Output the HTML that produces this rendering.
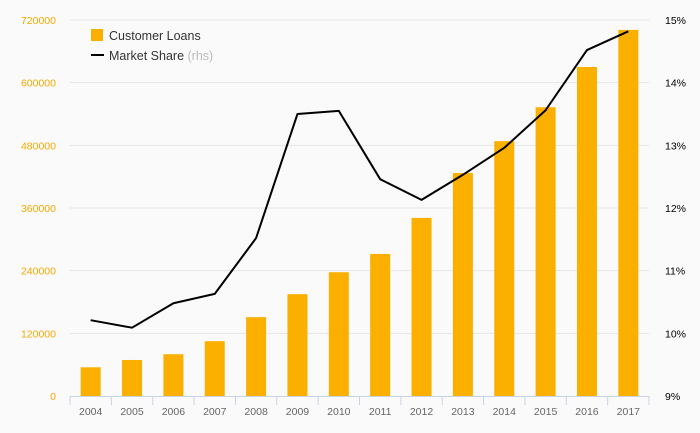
<!DOCTYPE html>
<html><head><meta charset="utf-8"><style>
body{margin:0;background:#fafafa;}
svg{display:block;font-family:"Liberation Sans","DejaVu Sans",sans-serif;}
</style></head><body>
<svg id="chart" width="700" height="433" viewBox="0 0 700 433">
<rect width="700" height="433" fill="#fafafa"/>
<g id="grid"></g><g id="bars"></g><g id="line"></g><g id="axes"></g>
<g>
<rect x="91" y="29" width="12" height="12" fill="#fbb000"/>
<text x="109" y="40" font-size="12.5" fill="#333">Customer Loans</text>
<line x1="91" y1="55" x2="104" y2="55" stroke="#000" stroke-width="2"/>
<text x="109" y="60" font-size="12.5" fill="#333">Market Share <tspan fill="#bbb">(rhs)</tspan></text>
</g>
</svg>
<script>
const years=["2004","2005","2006","2007","2008","2009","2010","2011","2012","2013","2014","2015","2016","2017"];
const loans=[55000,69000,80000,105000,151000,195000,237000,272000,341000,427000,488000,553000,630000,701000];
const share=[10.21,10.09,10.48,10.63,11.52,13.5,13.55,12.46,12.13,12.53,12.96,13.56,14.52,14.82];
const leftTicks=[0,120000,240000,360000,480000,600000,720000];
const rightTicks=[9,10,11,12,13,14,15];
const NS="http://www.w3.org/2000/svg";
const L=70,R=649,T=20,B=396;
const band=(R-L)/years.length;
const x=i=>L+band*(i+0.5);
const yL=v=>B-(v/720000)*(B-T);
const yR=v=>B-((v-9)/6)*(B-T);
function mk(tag,attrs,parent,txt){const e=document.createElementNS(NS,tag);for(const k in attrs)e.setAttribute(k,attrs[k]);if(txt!==undefined)e.textContent=txt;document.getElementById(parent).appendChild(e);return e;}
leftTicks.forEach((t,i)=>{
  if(i>0){const g=mk('line',{x1:L,x2:R,y1:yL(t),y2:yL(t),stroke:'#e6e6e6','stroke-width':1},'grid');
  
  }
  const tx=mk('text',{x:56,y:yL(t)+4,'text-anchor':'end','font-size':10.5,fill:'#f5a800'},'axes',String(t));
  
  
});
rightTicks.forEach(t=>{
  const tx=mk('text',{x:665,y:yR(t)+4,'font-size':10.5,fill:'#000'},'axes',t+'%');
  
  
});
years.forEach((yr,i)=>{
  const b=mk('rect',{x:x(i)-10,y:yL(loans[i]),width:20,height:B-yL(loans[i]),fill:'#fbb000'},'bars');
  
  
  const tx=mk('text',{x:x(i),y:415,'text-anchor':'middle','font-size':10.5,fill:'#666'},'axes',yr);
  
  
});
for(let i=0;i<=years.length;i++){
  const tk=mk('line',{x1:L+band*i,x2:L+band*i,y1:B,y2:B+9,stroke:'#c8d3e6','stroke-width':1},'axes');
  
  
}
const ax=mk('line',{x1:L,x2:R,y1:B+0.5,y2:B+0.5,stroke:'#c8d3e6','stroke-width':1},'axes');


const p=mk('polyline',{points:share.map((v,i)=>x(i)+','+yR(v)).join(' '),fill:'none',stroke:'#000','stroke-width':2,'stroke-linejoin':'round'},'line');


</script>
</body></html>
